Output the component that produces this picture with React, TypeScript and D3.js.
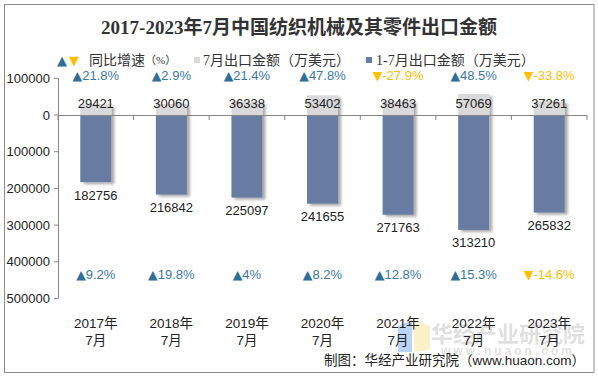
import React from "react";
import * as d3 from "d3";

const categories = ["2017年\n7月", "2018年\n7月", "2019年\n7月", "2020年\n7月", "2021年\n7月", "2022年\n7月", "2023年\n7月"];
const julyValues = [29421, 30060, 36338, 53402, 38463, 57069, 37261];
const cumValues = [182756, 216842, 225097, 241655, 271763, 313210, 265832];
const julyGrowth = [21.8, 2.9, 21.4, 47.8, -27.9, 48.5, -33.8];
const cumGrowth = [9.2, 19.8, 4, 8.2, 12.8, 15.3, -14.6];
const yTicks = [100000, 0, -100000, -200000, -300000, -400000, -500000];

const W = 598;
const H = 377;
const BLUE = "#677ba3";
const GRAY = "#d9d9d9";
const UP = "#2f6f97";
const UPTXT = "#3b78a3";
const DOWN = "#ffc000";
const SANS = "'Liberation Sans', Arial, 'Noto Sans CJK SC', sans-serif";
const SERIF = "'Liberation Serif', 'Noto Sans CJK SC', serif";
const CJK = "'Noto Sans CJK SC', sans-serif";
const TRI = "'DejaVu Sans', sans-serif";

export default function App() {
  const x = d3.scaleBand<string>().domain(categories).range([58, 587]).padding(0);
  const y = d3.scaleLinear().domain([100000, -500000]).range([78.3, 298.5]);
  const step = x.step();
  const barW = step * 0.41;
  const cx = (c: string) => (x(c) as number) + step / 2;

  const growthLabel = (g: number, cxv: number, yy: number, key: string) => {
    const up = g >= 0;
    return (
      <text key={key} x={cxv} y={yy} textAnchor="middle" dominantBaseline="central"
        fontFamily={SANS} fontSize={13} fill={up ? UPTXT : DOWN}>
        <tspan fill={up ? UP : DOWN} fontFamily={TRI} fontSize={12.5}>{up ? "▲" : "▼"}</tspan>
        {`${g}%`}
      </text>
    );
  };

  return (
    <svg width={W} height={H} style={{ position: "absolute", left: 0, top: 0 }}>
      <defs>
        <filter id="sh" x="-30%" y="-30%" width="170%" height="170%">
          <feGaussianBlur in="SourceAlpha" stdDeviation="1.5" />
          <feOffset dx="3" dy="2" result="b" />
          <feComponentTransfer><feFuncA type="linear" slope="0.35" /></feComponentTransfer>
          <feMerge><feMergeNode /><feMergeNode in="SourceGraphic" /></feMerge>
        </filter>
      </defs>
      <rect x={0} y={0} width={W} height={H} fill="#fff" />
      <rect x={4.5} y={4.5} width={589.5} height={368} fill="none" stroke="#8c8c8c" strokeWidth={1} />

      {/* title */}
      <text x={299} y={27} textAnchor="middle" dominantBaseline="central" fontFamily={SERIF}
        fontWeight="bold" fontSize={19} fill="#333">2017-2023年7月中国纺织机械及其零件出口金额</text>

      {/* legend */}
      <g fontFamily={SERIF} fontSize={14} fill="#333">
        <text x={57} y={60} dominantBaseline="central" fontFamily={TRI} fontSize={13}>
          <tspan fill={UP}>▲</tspan><tspan fill={DOWN} dx={2}>▼</tspan>
        </text>
        <text x={89} y={60} dominantBaseline="central">同比增速<tspan fontSize={11}>（%）</tspan></text>
        <rect x={194} y={57} width={6} height={6} fill={GRAY} />
        <text x={203} y={60} dominantBaseline="central">7月出口金额（万美元）</text>
        <rect x={366} y={57} width={6} height={6} fill={BLUE} />
        <text x={376} y={60} dominantBaseline="central">1-7月出口金额（万美元）</text>
      </g>

      {/* watermark */}
      <g opacity={0.85}>
        <polygon points="398,326 412,320 412,352 398,352" fill="#aecdf5" />
        <polygon points="414,320 430,326 430,350 414,352" fill="#fbefbf" />
        <text x={508} y={332} textAnchor="middle" dominantBaseline="central" fontFamily={CJK}
          fontWeight="bold" fontSize={22} fill="#dadada">华经产业研究院</text>
        <text x={508} y={351} textAnchor="middle" dominantBaseline="central" fontFamily={SANS}
          fontWeight="bold" fontSize={12} letterSpacing={3} fill="#dadada">www.huaon.com</text>
      </g>

      {/* y axis */}
      <line x1={58.5} x2={58.5} y1={y(100000)} y2={y(-500000)} stroke="#868686" />
      {yTicks.map((t) => (
        <g key={t}>
          <line x1={54} x2={58.5} y1={y(t)} y2={y(t)} stroke="#868686" />
          <text x={50} y={y(t)} textAnchor="end" dominantBaseline="central" fontFamily={SANS}
            fontSize={13} fill="#222">{Math.abs(t)}</text>
        </g>
      ))}

      {/* bars */}
      {categories.map((c, i) => (
        <g key={c} filter="url(#sh)">
          <rect x={cx(c) - barW / 2} y={y(julyValues[i])} width={barW} height={y(0) - y(julyValues[i])} fill={GRAY} />
          <rect x={cx(c) - barW / 2} y={y(0)} width={barW} height={y(-cumValues[i]) - y(0)} fill={BLUE} />
        </g>
      ))}

      {/* zero axis */}
      <line x1={58} x2={587} y1={y(0) + 0.5} y2={y(0) + 0.5} stroke="#868686" />
      {d3.range(categories.length + 1).map((k) => (
        <line key={k} x1={58 + k * step} x2={58 + k * step} y1={y(0)} y2={y(0) + 5} stroke="#868686" />
      ))}

      {/* labels */}
      {categories.map((c, i) => (
        <g key={"l" + c}>
          <text x={cx(c)} y={103} textAnchor="middle" dominantBaseline="central" fontFamily={SANS}
            fontSize={13} fill="#222">{julyValues[i]}</text>
          <text x={cx(c)} y={y(-cumValues[i]) + 13} textAnchor="middle" dominantBaseline="central" fontFamily={SANS}
            fontSize={13} fill="#222">{cumValues[i]}</text>
          {growthLabel(julyGrowth[i], cx(c), 75, "g1" + i)}
          {growthLabel(cumGrowth[i], cx(c), 274, "g2" + i)}
          {c.split("\n").map((line, k) => (
            <text key={k} x={cx(c)} y={323 + k * 17} textAnchor="middle" dominantBaseline="central"
              fontFamily={SANS} fontSize={13.5} fill="#222">{line}</text>
          ))}
        </g>
      ))}

      {/* source */}
      <text x={585} y={360} textAnchor="end" dominantBaseline="central" fontFamily={SANS}
        fontSize={13.5} fill="#222">制图：华经产业研究院（www.huaon.com）</text>
    </svg>
  );
}
